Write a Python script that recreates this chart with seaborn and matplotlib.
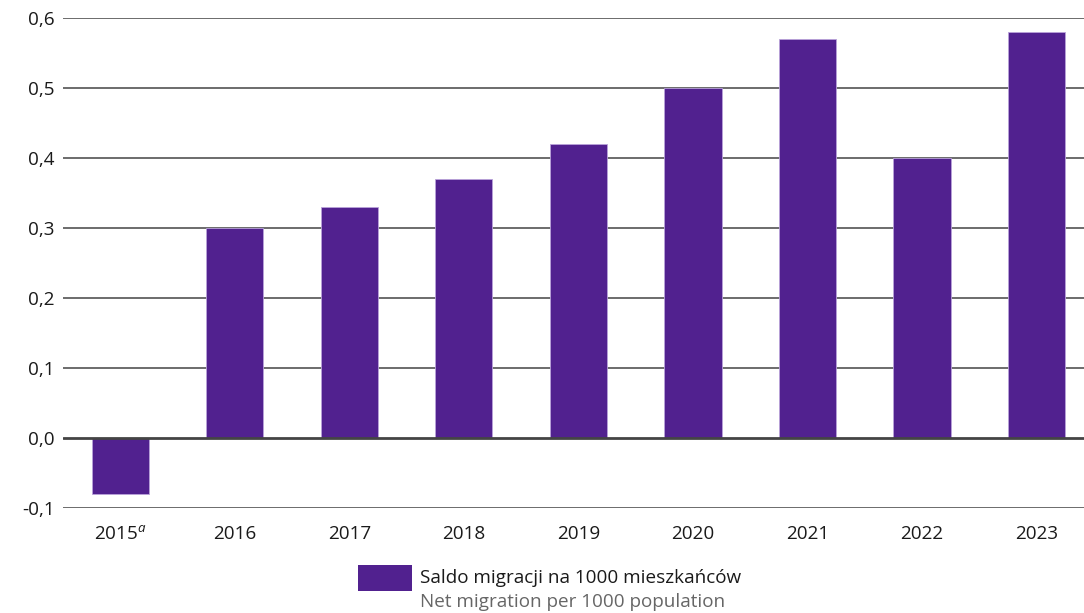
import matplotlib
matplotlib.use("Agg")
import matplotlib.pyplot as plt
from matplotlib.patches import Rectangle
import seaborn as sns
import pandas as pd

years = ["2015", "2016", "2017", "2018", "2019", "2020", "2021", "2022", "2023"]
year_labels = ["2015$^{\\mathit{a}}$", "2016", "2017", "2018", "2019", "2020", "2021", "2022", "2023"]
net_migration = [-0.08, 0.30, 0.33, 0.37, 0.42, 0.50, 0.57, 0.40, 0.58]
y_ticks = [-0.1, 0.0, 0.1, 0.2, 0.3, 0.4, 0.5, 0.6]
y_tick_labels = ["-0,1", "0,0", "0,1", "0,2", "0,3", "0,4", "0,5", "0,6"]
legend_pl = "Saldo migracji na 1000 mieszkańców"
legend_en = "Net migration per 1000 population"

sns.set_theme(style="white")
plt.rcParams["font.family"] = ["Open Sans", "DejaVu Sans"]
plt.rcParams["mathtext.fontset"] = "custom"
plt.rcParams["mathtext.it"] = "Open Sans:italic"
plt.rcParams["mathtext.rm"] = "Open Sans"

FS = 13.6
W, H = 1084, 613
fig = plt.figure(figsize=(W / 100, H / 100), dpi=100)
ax = fig.add_axes([63 / W, 1 - 508 / H, (1084 - 63) / W, (508 - 18) / H])

bar_color = "#51218F"
df = pd.DataFrame({"year": years, "value": net_migration})
sns.barplot(data=df, x="year", y="value", color=bar_color, saturation=1,
            width=0.5, edgecolor="#B9A3DA", linewidth=0.6, ax=ax, zorder=3)

ax.set_ylim(-0.1, 0.6)
ax.set_xlim(-0.5, 8.415)
ax.set_yticks(y_ticks)
ax.set_yticklabels(y_tick_labels)
ax.set_xticks(range(len(years)))
ax.set_xticklabels(year_labels)
ax.tick_params(axis="both", length=0, labelsize=FS, colors="#1a1a1a")
ax.tick_params(axis="y", pad=6)
ax.tick_params(axis="x", pad=12)
ax.set_xlabel("")
ax.set_ylabel("")
for s in ax.spines.values():
    s.set_visible(False)

for v in y_ticks:
    lw = 2.0 if v == 0 else 1.1
    ax.axhline(v, color="#444444", lw=lw, zorder=2 if v != 0 else 4)

# legend block
fig.add_artist(Rectangle((358 / W, 1 - 591 / H), 54 / W, 26 / H,
                         transform=fig.transFigure, facecolor=bar_color,
                         edgecolor="none"))
fig.text(420 / W, 1 - 578 / H, legend_pl, fontsize=FS, color="#1a1a1a",
         va="center", ha="left")
fig.text(420 / W, 1 - 602 / H, legend_en, fontsize=FS, color="#666666",
         va="center", ha="left")

fig.savefig("out.png", dpi=100)
